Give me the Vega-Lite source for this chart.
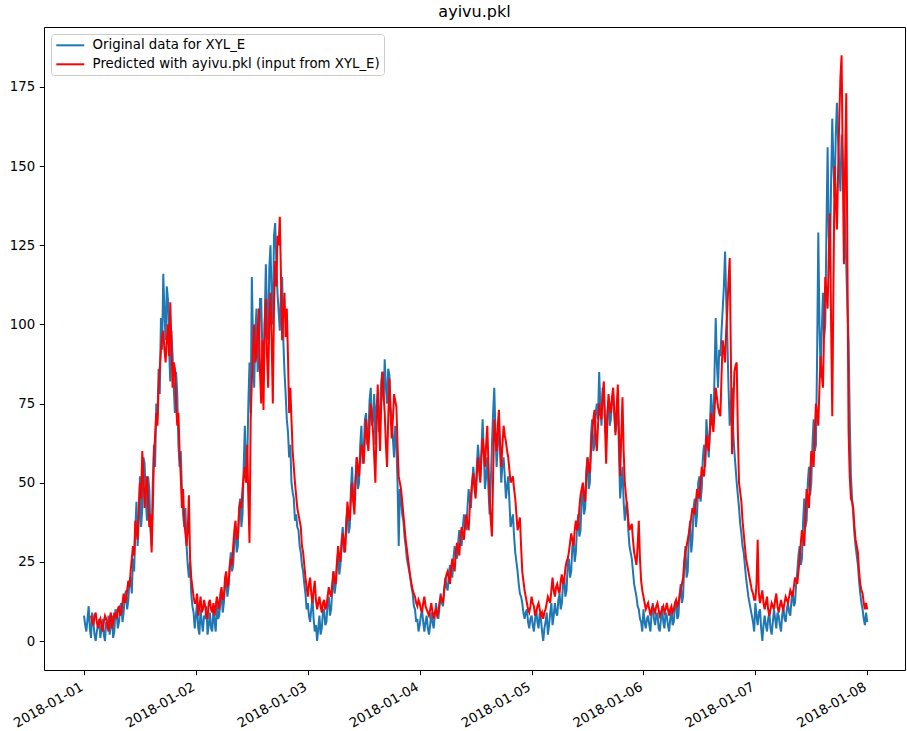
{
"$schema": "https://vega.github.io/schema/vega-lite/v6.json",
"width": 861, "height": 643,
"autosize": "none",
"padding": {"left": 44, "top": 27, "right": 2, "bottom": 61},
"background": "white",
"title": {"text": "ayivu.pkl", "fontSize": 16, "font": "DejaVu Sans", "fontWeight": "normal", "color": "black", "offset": 7, "anchor": "middle"},
"config": {"view": {"stroke": "black", "strokeWidth": 1}},
"data": {"values": [
{"t":"2018-01-01T00:00","o":8,"p":null},{"t":"2018-01-01T00:15","o":5,"p":null},{"t":"2018-01-01T00:30","o":3,"p":null},{"t":"2018-01-01T00:45","o":7,"p":null},
{"t":"2018-01-01T01:00","o":11,"p":null},{"t":"2018-01-01T01:15","o":4,"p":null},{"t":"2018-01-01T01:30","o":1,"p":8},{"t":"2018-01-01T01:45","o":9,"p":6},
{"t":"2018-01-01T02:00","o":6,"p":5},{"t":"2018-01-01T02:15","o":2,"p":8},{"t":"2018-01-01T02:30","o":0,"p":9},{"t":"2018-01-01T02:45","o":3,"p":6},
{"t":"2018-01-01T03:00","o":5,"p":4},{"t":"2018-01-01T03:15","o":7,"p":6},{"t":"2018-01-01T03:30","o":1,"p":7},{"t":"2018-01-01T03:45","o":4,"p":5},
{"t":"2018-01-01T04:00","o":7,"p":3},{"t":"2018-01-01T04:15","o":2,"p":6},{"t":"2018-01-01T04:30","o":0,"p":8},{"t":"2018-01-01T04:45","o":6,"p":7},
{"t":"2018-01-01T05:00","o":4,"p":5},{"t":"2018-01-01T05:15","o":8,"p":3},{"t":"2018-01-01T05:30","o":2,"p":7},{"t":"2018-01-01T05:45","o":5,"p":9},
{"t":"2018-01-01T06:00","o":8,"p":4},{"t":"2018-01-01T06:15","o":1,"p":6},{"t":"2018-01-01T06:30","o":3,"p":9},{"t":"2018-01-01T06:45","o":10,"p":8},
{"t":"2018-01-01T07:00","o":9,"p":7},{"t":"2018-01-01T07:15","o":4,"p":10},{"t":"2018-01-01T07:30","o":6,"p":11},{"t":"2018-01-01T07:45","o":11,"p":8},
{"t":"2018-01-01T08:00","o":12,"p":9},{"t":"2018-01-01T08:15","o":6,"p":12},{"t":"2018-01-01T08:30","o":9,"p":15},{"t":"2018-01-01T08:45","o":14,"p":12},
{"t":"2018-01-01T09:00","o":16,"p":13},{"t":"2018-01-01T09:15","o":10,"p":16},{"t":"2018-01-01T09:30","o":13,"p":19},{"t":"2018-01-01T09:45","o":19,"p":17},
{"t":"2018-01-01T10:00","o":20,"p":22},{"t":"2018-01-01T10:15","o":15,"p":26},{"t":"2018-01-01T10:30","o":26,"p":30},{"t":"2018-01-01T10:45","o":22,"p":27},
{"t":"2018-01-01T11:00","o":35,"p":38},{"t":"2018-01-01T11:15","o":44,"p":35},{"t":"2018-01-01T11:30","o":30,"p":32},{"t":"2018-01-01T11:45","o":38,"p":42},
{"t":"2018-01-01T12:00","o":52,"p":50},{"t":"2018-01-01T12:15","o":36,"p":45},{"t":"2018-01-01T12:30","o":42,"p":60},{"t":"2018-01-01T12:45","o":58,"p":52},
{"t":"2018-01-01T13:00","o":56,"p":42},{"t":"2018-01-01T13:15","o":45,"p":48},{"t":"2018-01-01T13:30","o":38,"p":52},{"t":"2018-01-01T13:45","o":52,"p":44},
{"t":"2018-01-01T14:00","o":48,"p":36},{"t":"2018-01-01T14:15","o":35,"p":40},{"t":"2018-01-01T14:30","o":30,"p":28},{"t":"2018-01-01T14:45","o":50,"p":42},
{"t":"2018-01-01T15:00","o":62,"p":58},{"t":"2018-01-01T15:15","o":55,"p":65},{"t":"2018-01-01T15:30","o":75,"p":72},{"t":"2018-01-01T15:45","o":70,"p":68},
{"t":"2018-01-01T16:00","o":86,"p":80},{"t":"2018-01-01T16:15","o":78,"p":86},{"t":"2018-01-01T16:30","o":102,"p":92},{"t":"2018-01-01T16:45","o":92,"p":96},
{"t":"2018-01-01T17:00","o":116,"p":98},{"t":"2018-01-01T17:15","o":104,"p":92},{"t":"2018-01-01T17:30","o":95,"p":88},{"t":"2018-01-01T17:45","o":112,"p":95},
{"t":"2018-01-01T18:00","o":108,"p":100},{"t":"2018-01-01T18:15","o":92,"p":90},{"t":"2018-01-01T18:30","o":82,"p":107},{"t":"2018-01-01T18:45","o":98,"p":94},
{"t":"2018-01-01T19:00","o":90,"p":80},{"t":"2018-01-01T19:15","o":80,"p":88},{"t":"2018-01-01T19:30","o":72,"p":86},{"t":"2018-01-01T19:45","o":85,"p":75},
{"t":"2018-01-01T20:00","o":78,"p":68},{"t":"2018-01-01T20:15","o":62,"p":72},{"t":"2018-01-01T20:30","o":55,"p":60},{"t":"2018-01-01T20:45","o":60,"p":52},
{"t":"2018-01-01T21:00","o":48,"p":42},{"t":"2018-01-01T21:15","o":40,"p":48},{"t":"2018-01-01T21:30","o":36,"p":38},{"t":"2018-01-01T21:45","o":42,"p":34},
{"t":"2018-01-01T22:00","o":30,"p":30},{"t":"2018-01-01T22:15","o":24,"p":35},{"t":"2018-01-01T22:30","o":20,"p":46},{"t":"2018-01-01T22:45","o":25,"p":26},
{"t":"2018-01-01T23:00","o":15,"p":20},{"t":"2018-01-01T23:15","o":11,"p":17},{"t":"2018-01-01T23:30","o":9,"p":14},{"t":"2018-01-01T23:45","o":4,"p":12},
{"t":"2018-01-02T00:00","o":8,"p":12},{"t":"2018-01-02T00:15","o":12,"p":15},{"t":"2018-01-02T00:30","o":4,"p":8},{"t":"2018-01-02T00:45","o":2,"p":11},
{"t":"2018-01-02T01:00","o":10,"p":14},{"t":"2018-01-02T01:15","o":6,"p":9},{"t":"2018-01-02T01:30","o":3,"p":10},{"t":"2018-01-02T01:45","o":8,"p":13},
{"t":"2018-01-02T02:00","o":7,"p":11},{"t":"2018-01-02T02:15","o":11,"p":8},{"t":"2018-01-02T02:30","o":2,"p":7},{"t":"2018-01-02T02:45","o":5,"p":12},
{"t":"2018-01-02T03:00","o":9,"p":13},{"t":"2018-01-02T03:15","o":4,"p":10},{"t":"2018-01-02T03:30","o":3,"p":9},{"t":"2018-01-02T03:45","o":10,"p":12},
{"t":"2018-01-02T04:00","o":6,"p":8},{"t":"2018-01-02T04:15","o":3,"p":11},{"t":"2018-01-02T04:30","o":12,"p":14},{"t":"2018-01-02T04:45","o":7,"p":12},
{"t":"2018-01-02T05:00","o":8,"p":10},{"t":"2018-01-02T05:15","o":13,"p":15},{"t":"2018-01-02T05:30","o":15,"p":17},{"t":"2018-01-02T05:45","o":9,"p":13},
{"t":"2018-01-02T06:00","o":12,"p":14},{"t":"2018-01-02T06:15","o":18,"p":20},{"t":"2018-01-02T06:30","o":20,"p":22},{"t":"2018-01-02T06:45","o":14,"p":17},
{"t":"2018-01-02T07:00","o":17,"p":18},{"t":"2018-01-02T07:15","o":24,"p":23},{"t":"2018-01-02T07:30","o":28,"p":26},{"t":"2018-01-02T07:45","o":22,"p":24},
{"t":"2018-01-02T08:00","o":24,"p":30},{"t":"2018-01-02T08:15","o":32,"p":35},{"t":"2018-01-02T08:30","o":36,"p":38},{"t":"2018-01-02T08:45","o":28,"p":32},
{"t":"2018-01-02T09:00","o":30,"p":33},{"t":"2018-01-02T09:15","o":42,"p":40},{"t":"2018-01-02T09:30","o":45,"p":44},{"t":"2018-01-02T09:45","o":36,"p":42},
{"t":"2018-01-02T10:00","o":40,"p":48},{"t":"2018-01-02T10:15","o":55,"p":52},{"t":"2018-01-02T10:30","o":68,"p":55},{"t":"2018-01-02T10:45","o":52,"p":50},
{"t":"2018-01-02T11:00","o":55,"p":62},{"t":"2018-01-02T11:15","o":75,"p":45},{"t":"2018-01-02T11:30","o":88,"p":31},{"t":"2018-01-02T11:45","o":72,"p":70},
{"t":"2018-01-02T12:00","o":115,"p":82},{"t":"2018-01-02T12:15","o":95,"p":92},{"t":"2018-01-02T12:30","o":80,"p":100},{"t":"2018-01-02T12:45","o":98,"p":88},
{"t":"2018-01-02T13:00","o":105,"p":90},{"t":"2018-01-02T13:15","o":85,"p":98},{"t":"2018-01-02T13:30","o":90,"p":105},{"t":"2018-01-02T13:45","o":108,"p":85},
{"t":"2018-01-02T14:00","o":108,"p":75},{"t":"2018-01-02T14:15","o":92,"p":95},{"t":"2018-01-02T14:30","o":82,"p":73},{"t":"2018-01-02T14:45","o":100,"p":100},
{"t":"2018-01-02T15:00","o":119,"p":108},{"t":"2018-01-02T15:15","o":104,"p":90},{"t":"2018-01-02T15:30","o":95,"p":80},{"t":"2018-01-02T15:45","o":118,"p":102},
{"t":"2018-01-02T16:00","o":125,"p":110},{"t":"2018-01-02T16:15","o":108,"p":95},{"t":"2018-01-02T16:30","o":100,"p":75},{"t":"2018-01-02T16:45","o":128,"p":105},
{"t":"2018-01-02T17:00","o":132,"p":120},{"t":"2018-01-02T17:15","o":120,"p":112},{"t":"2018-01-02T17:30","o":110,"p":128},{"t":"2018-01-02T17:45","o":104,"p":125},
{"t":"2018-01-02T18:00","o":98,"p":134},{"t":"2018-01-02T18:15","o":110,"p":115},{"t":"2018-01-02T18:30","o":115,"p":95},{"t":"2018-01-02T18:45","o":95,"p":104},
{"t":"2018-01-02T19:00","o":85,"p":110},{"t":"2018-01-02T19:15","o":78,"p":96},{"t":"2018-01-02T19:30","o":70,"p":105},{"t":"2018-01-02T19:45","o":66,"p":90},
{"t":"2018-01-02T20:00","o":58,"p":72},{"t":"2018-01-02T20:15","o":62,"p":80},{"t":"2018-01-02T20:30","o":50,"p":70},{"t":"2018-01-02T20:45","o":47,"p":60},
{"t":"2018-01-02T21:00","o":45,"p":55},{"t":"2018-01-02T21:15","o":38,"p":50},{"t":"2018-01-02T21:30","o":40,"p":46},{"t":"2018-01-02T21:45","o":36,"p":42},
{"t":"2018-01-02T22:00","o":35,"p":40},{"t":"2018-01-02T22:15","o":30,"p":38},{"t":"2018-01-02T22:30","o":28,"p":36},{"t":"2018-01-02T22:45","o":24,"p":30},
{"t":"2018-01-02T23:00","o":22,"p":28},{"t":"2018-01-02T23:15","o":18,"p":24},{"t":"2018-01-02T23:30","o":15,"p":20},{"t":"2018-01-02T23:45","o":10,"p":17},
{"t":"2018-01-03T00:00","o":12,"p":14},{"t":"2018-01-03T00:15","o":8,"p":18},{"t":"2018-01-03T00:30","o":6,"p":20},{"t":"2018-01-03T00:45","o":10,"p":15},
{"t":"2018-01-03T01:00","o":14,"p":12},{"t":"2018-01-03T01:15","o":7,"p":16},{"t":"2018-01-03T01:30","o":3,"p":19},{"t":"2018-01-03T01:45","o":5,"p":13},
{"t":"2018-01-03T02:00","o":0,"p":10},{"t":"2018-01-03T02:15","o":4,"p":12},{"t":"2018-01-03T02:30","o":8,"p":14},{"t":"2018-01-03T02:45","o":2,"p":11},
{"t":"2018-01-03T03:00","o":4,"p":9},{"t":"2018-01-03T03:15","o":9,"p":12},{"t":"2018-01-03T03:30","o":10,"p":13},{"t":"2018-01-03T03:45","o":5,"p":10},
{"t":"2018-01-03T04:00","o":6,"p":11},{"t":"2018-01-03T04:15","o":12,"p":14},{"t":"2018-01-03T04:30","o":14,"p":17},{"t":"2018-01-03T04:45","o":8,"p":15},
{"t":"2018-01-03T05:00","o":10,"p":14},{"t":"2018-01-03T05:15","o":16,"p":18},{"t":"2018-01-03T05:30","o":22,"p":22},{"t":"2018-01-03T05:45","o":15,"p":19},
{"t":"2018-01-03T06:00","o":18,"p":18},{"t":"2018-01-03T06:15","o":25,"p":24},{"t":"2018-01-03T06:30","o":28,"p":30},{"t":"2018-01-03T06:45","o":21,"p":27},
{"t":"2018-01-03T07:00","o":24,"p":25},{"t":"2018-01-03T07:15","o":32,"p":30},{"t":"2018-01-03T07:30","o":36,"p":34},{"t":"2018-01-03T07:45","o":28,"p":31},
{"t":"2018-01-03T08:00","o":30,"p":28},{"t":"2018-01-03T08:15","o":38,"p":36},{"t":"2018-01-03T08:30","o":42,"p":44},{"t":"2018-01-03T08:45","o":34,"p":40},
{"t":"2018-01-03T09:00","o":36,"p":38},{"t":"2018-01-03T09:15","o":48,"p":45},{"t":"2018-01-03T09:30","o":55,"p":50},{"t":"2018-01-03T09:45","o":44,"p":44},
{"t":"2018-01-03T10:00","o":45,"p":40},{"t":"2018-01-03T10:15","o":52,"p":50},{"t":"2018-01-03T10:30","o":58,"p":58},{"t":"2018-01-03T10:45","o":48,"p":55},
{"t":"2018-01-03T11:00","o":50,"p":52},{"t":"2018-01-03T11:15","o":62,"p":58},{"t":"2018-01-03T11:30","o":68,"p":62},{"t":"2018-01-03T11:45","o":56,"p":60},
{"t":"2018-01-03T12:00","o":60,"p":56},{"t":"2018-01-03T12:15","o":70,"p":64},{"t":"2018-01-03T12:30","o":72,"p":70},{"t":"2018-01-03T12:45","o":62,"p":64},
{"t":"2018-01-03T13:00","o":65,"p":60},{"t":"2018-01-03T13:15","o":76,"p":68},{"t":"2018-01-03T13:30","o":80,"p":75},{"t":"2018-01-03T13:45","o":68,"p":72},
{"t":"2018-01-03T14:00","o":70,"p":66},{"t":"2018-01-03T14:15","o":78,"p":58},{"t":"2018-01-03T14:30","o":62,"p":50},{"t":"2018-01-03T14:45","o":74,"p":68},
{"t":"2018-01-03T15:00","o":78,"p":81},{"t":"2018-01-03T15:15","o":66,"p":70},{"t":"2018-01-03T15:30","o":72,"p":60},{"t":"2018-01-03T15:45","o":82,"p":75},
{"t":"2018-01-03T16:00","o":85,"p":85},{"t":"2018-01-03T16:15","o":76,"p":78},{"t":"2018-01-03T16:30","o":89,"p":72},{"t":"2018-01-03T16:45","o":80,"p":62},
{"t":"2018-01-03T17:00","o":75,"p":55},{"t":"2018-01-03T17:15","o":86,"p":70},{"t":"2018-01-03T17:30","o":84,"p":83},{"t":"2018-01-03T17:45","o":74,"p":72},
{"t":"2018-01-03T18:00","o":70,"p":64},{"t":"2018-01-03T18:15","o":64,"p":70},{"t":"2018-01-03T18:30","o":58,"p":78},{"t":"2018-01-03T18:45","o":68,"p":76},
{"t":"2018-01-03T19:00","o":62,"p":74},{"t":"2018-01-03T19:15","o":50,"p":62},{"t":"2018-01-03T19:30","o":30,"p":52},{"t":"2018-01-03T19:45","o":48,"p":50},
{"t":"2018-01-03T20:00","o":45,"p":48},{"t":"2018-01-03T20:15","o":40,"p":44},{"t":"2018-01-03T20:30","o":38,"p":40},{"t":"2018-01-03T20:45","o":33,"p":36},
{"t":"2018-01-03T21:00","o":30,"p":32},{"t":"2018-01-03T21:15","o":26,"p":29},{"t":"2018-01-03T21:30","o":24,"p":26},{"t":"2018-01-03T21:45","o":22,"p":23},
{"t":"2018-01-03T22:00","o":20,"p":20},{"t":"2018-01-03T22:15","o":17,"p":18},{"t":"2018-01-03T22:30","o":15,"p":16},{"t":"2018-01-03T22:45","o":11,"p":15},
{"t":"2018-01-03T23:00","o":10,"p":14},{"t":"2018-01-03T23:15","o":6,"p":12},{"t":"2018-01-03T23:30","o":7,"p":11},{"t":"2018-01-03T23:45","o":3,"p":13},
{"t":"2018-01-04T00:00","o":5,"p":12},{"t":"2018-01-04T00:15","o":8,"p":10},{"t":"2018-01-04T00:30","o":10,"p":9},{"t":"2018-01-04T00:45","o":6,"p":12},
{"t":"2018-01-04T01:00","o":3,"p":14},{"t":"2018-01-04T01:15","o":6,"p":11},{"t":"2018-01-04T01:30","o":8,"p":10},{"t":"2018-01-04T01:45","o":4,"p":9},
{"t":"2018-01-04T02:00","o":2,"p":8},{"t":"2018-01-04T02:15","o":5,"p":10},{"t":"2018-01-04T02:30","o":9,"p":12},{"t":"2018-01-04T02:45","o":6,"p":9},
{"t":"2018-01-04T03:00","o":4,"p":7},{"t":"2018-01-04T03:15","o":8,"p":9},{"t":"2018-01-04T03:30","o":12,"p":10},{"t":"2018-01-04T03:45","o":9,"p":8},
{"t":"2018-01-04T04:00","o":7,"p":9},{"t":"2018-01-04T04:15","o":11,"p":12},{"t":"2018-01-04T04:30","o":15,"p":14},{"t":"2018-01-04T04:45","o":12,"p":13},
{"t":"2018-01-04T05:00","o":11,"p":12},{"t":"2018-01-04T05:15","o":16,"p":16},{"t":"2018-01-04T05:30","o":20,"p":19},{"t":"2018-01-04T05:45","o":17,"p":21},
{"t":"2018-01-04T06:00","o":16,"p":22},{"t":"2018-01-04T06:15","o":21,"p":20},{"t":"2018-01-04T06:30","o":24,"p":18},{"t":"2018-01-04T06:45","o":22,"p":23},
{"t":"2018-01-04T07:00","o":20,"p":26},{"t":"2018-01-04T07:15","o":26,"p":24},{"t":"2018-01-04T07:30","o":30,"p":22},{"t":"2018-01-04T07:45","o":27,"p":28},
{"t":"2018-01-04T08:00","o":26,"p":31},{"t":"2018-01-04T08:15","o":31,"p":29},{"t":"2018-01-04T08:30","o":35,"p":27},{"t":"2018-01-04T08:45","o":33,"p":33},
{"t":"2018-01-04T09:00","o":30,"p":36},{"t":"2018-01-04T09:15","o":36,"p":34},{"t":"2018-01-04T09:30","o":40,"p":32},{"t":"2018-01-04T09:45","o":38,"p":37},
{"t":"2018-01-04T10:00","o":35,"p":40},{"t":"2018-01-04T10:15","o":42,"p":37},{"t":"2018-01-04T10:30","o":48,"p":35},{"t":"2018-01-04T10:45","o":44,"p":42},
{"t":"2018-01-04T11:00","o":42,"p":46},{"t":"2018-01-04T11:15","o":50,"p":50},{"t":"2018-01-04T11:30","o":55,"p":53},{"t":"2018-01-04T11:45","o":50,"p":48},
{"t":"2018-01-04T12:00","o":47,"p":45},{"t":"2018-01-04T12:15","o":55,"p":52},{"t":"2018-01-04T12:30","o":62,"p":58},{"t":"2018-01-04T12:45","o":57,"p":54},
{"t":"2018-01-04T13:00","o":52,"p":50},{"t":"2018-01-04T13:15","o":60,"p":58},{"t":"2018-01-04T13:30","o":70,"p":64},{"t":"2018-01-04T13:45","o":60,"p":60},
{"t":"2018-01-04T14:00","o":48,"p":55},{"t":"2018-01-04T14:15","o":52,"p":62},{"t":"2018-01-04T14:30","o":58,"p":68},{"t":"2018-01-04T14:45","o":48,"p":56},
{"t":"2018-01-04T15:00","o":40,"p":45},{"t":"2018-01-04T15:15","o":50,"p":38},{"t":"2018-01-04T15:30","o":62,"p":33},{"t":"2018-01-04T15:45","o":72,"p":52},
{"t":"2018-01-04T16:00","o":80,"p":70},{"t":"2018-01-04T16:15","o":66,"p":65},{"t":"2018-01-04T16:30","o":55,"p":60},{"t":"2018-01-04T16:45","o":62,"p":68},
{"t":"2018-01-04T17:00","o":68,"p":73},{"t":"2018-01-04T17:15","o":60,"p":62},{"t":"2018-01-04T17:30","o":50,"p":55},{"t":"2018-01-04T17:45","o":56,"p":62},
{"t":"2018-01-04T18:00","o":58,"p":68},{"t":"2018-01-04T18:15","o":52,"p":65},{"t":"2018-01-04T18:30","o":45,"p":63},{"t":"2018-01-04T18:45","o":49,"p":60},
{"t":"2018-01-04T19:00","o":52,"p":58},{"t":"2018-01-04T19:15","o":44,"p":54},{"t":"2018-01-04T19:30","o":36,"p":50},{"t":"2018-01-04T19:45","o":38,"p":51},
{"t":"2018-01-04T20:00","o":40,"p":52},{"t":"2018-01-04T20:15","o":33,"p":48},{"t":"2018-01-04T20:30","o":28,"p":45},{"t":"2018-01-04T20:45","o":25,"p":40},
{"t":"2018-01-04T21:00","o":22,"p":35},{"t":"2018-01-04T21:15","o":18,"p":37},{"t":"2018-01-04T21:30","o":15,"p":39},{"t":"2018-01-04T21:45","o":14,"p":30},
{"t":"2018-01-04T22:00","o":12,"p":22},{"t":"2018-01-04T22:15","o":9,"p":19},{"t":"2018-01-04T22:30","o":7,"p":16},{"t":"2018-01-04T22:45","o":9,"p":14},
{"t":"2018-01-04T23:00","o":10,"p":12},{"t":"2018-01-04T23:15","o":6,"p":10},{"t":"2018-01-04T23:30","o":4,"p":9},{"t":"2018-01-04T23:45","o":7,"p":11},
{"t":"2018-01-05T00:00","o":8,"p":14},{"t":"2018-01-05T00:15","o":5,"p":12},{"t":"2018-01-05T00:30","o":3,"p":11},{"t":"2018-01-05T00:45","o":7,"p":8},
{"t":"2018-01-05T01:00","o":10,"p":9},{"t":"2018-01-05T01:15","o":6,"p":11},{"t":"2018-01-05T01:30","o":4,"p":12},{"t":"2018-01-05T01:45","o":9,"p":10},
{"t":"2018-01-05T02:00","o":7,"p":8},{"t":"2018-01-05T02:15","o":3,"p":9},{"t":"2018-01-05T02:30","o":0,"p":7},{"t":"2018-01-05T02:45","o":4,"p":9},
{"t":"2018-01-05T03:00","o":6,"p":10},{"t":"2018-01-05T03:15","o":9,"p":12},{"t":"2018-01-05T03:30","o":2,"p":14},{"t":"2018-01-05T03:45","o":5,"p":13},
{"t":"2018-01-05T04:00","o":9,"p":12},{"t":"2018-01-05T04:15","o":12,"p":16},{"t":"2018-01-05T04:30","o":5,"p":20},{"t":"2018-01-05T04:45","o":8,"p":16},
{"t":"2018-01-05T05:00","o":12,"p":14},{"t":"2018-01-05T05:15","o":9,"p":17},{"t":"2018-01-05T05:30","o":8,"p":18},{"t":"2018-01-05T05:45","o":13,"p":16},
{"t":"2018-01-05T06:00","o":15,"p":15},{"t":"2018-01-05T06:15","o":10,"p":19},{"t":"2018-01-05T06:30","o":12,"p":21},{"t":"2018-01-05T06:45","o":18,"p":18},
{"t":"2018-01-05T07:00","o":20,"p":19},{"t":"2018-01-05T07:15","o":14,"p":23},{"t":"2018-01-05T07:30","o":16,"p":25},{"t":"2018-01-05T07:45","o":24,"p":26},
{"t":"2018-01-05T08:00","o":26,"p":28},{"t":"2018-01-05T08:15","o":20,"p":31},{"t":"2018-01-05T08:30","o":22,"p":34},{"t":"2018-01-05T08:45","o":30,"p":32},
{"t":"2018-01-05T09:00","o":32,"p":30},{"t":"2018-01-05T09:15","o":25,"p":35},{"t":"2018-01-05T09:30","o":28,"p":38},{"t":"2018-01-05T09:45","o":36,"p":35},
{"t":"2018-01-05T10:00","o":40,"p":36},{"t":"2018-01-05T10:15","o":33,"p":42},{"t":"2018-01-05T10:30","o":35,"p":46},{"t":"2018-01-05T10:45","o":45,"p":48},
{"t":"2018-01-05T11:00","o":48,"p":50},{"t":"2018-01-05T11:15","o":40,"p":46},{"t":"2018-01-05T11:30","o":42,"p":44},{"t":"2018-01-05T11:45","o":54,"p":52},
{"t":"2018-01-05T12:00","o":58,"p":58},{"t":"2018-01-05T12:15","o":48,"p":55},{"t":"2018-01-05T12:30","o":50,"p":53},{"t":"2018-01-05T12:45","o":65,"p":60},
{"t":"2018-01-05T13:00","o":70,"p":66},{"t":"2018-01-05T13:15","o":60,"p":70},{"t":"2018-01-05T13:30","o":62,"p":73},{"t":"2018-01-05T13:45","o":72,"p":65},
{"t":"2018-01-05T14:00","o":75,"p":60},{"t":"2018-01-05T14:15","o":70,"p":68},{"t":"2018-01-05T14:30","o":85,"p":75},{"t":"2018-01-05T14:45","o":74,"p":72},
{"t":"2018-01-05T15:00","o":68,"p":70},{"t":"2018-01-05T15:15","o":80,"p":78},{"t":"2018-01-05T15:30","o":78,"p":82},{"t":"2018-01-05T15:45","o":70,"p":68},
{"t":"2018-01-05T16:00","o":64,"p":56},{"t":"2018-01-05T16:15","o":72,"p":70},{"t":"2018-01-05T16:30","o":76,"p":78},{"t":"2018-01-05T16:45","o":68,"p":74},
{"t":"2018-01-05T17:00","o":70,"p":72},{"t":"2018-01-05T17:15","o":76,"p":77},{"t":"2018-01-05T17:30","o":78,"p":80},{"t":"2018-01-05T17:45","o":72,"p":72},
{"t":"2018-01-05T18:00","o":66,"p":65},{"t":"2018-01-05T18:15","o":70,"p":74},{"t":"2018-01-05T18:30","o":74,"p":81},{"t":"2018-01-05T18:45","o":60,"p":66},
{"t":"2018-01-05T19:00","o":45,"p":52},{"t":"2018-01-05T19:15","o":50,"p":65},{"t":"2018-01-05T19:30","o":55,"p":77},{"t":"2018-01-05T19:45","o":44,"p":60},
{"t":"2018-01-05T20:00","o":38,"p":50},{"t":"2018-01-05T20:15","o":42,"p":46},{"t":"2018-01-05T20:30","o":44,"p":42},{"t":"2018-01-05T20:45","o":35,"p":38},
{"t":"2018-01-05T21:00","o":30,"p":35},{"t":"2018-01-05T21:15","o":28,"p":36},{"t":"2018-01-05T21:30","o":26,"p":37},{"t":"2018-01-05T21:45","o":22,"p":32},
{"t":"2018-01-05T22:00","o":18,"p":28},{"t":"2018-01-05T22:15","o":16,"p":26},{"t":"2018-01-05T22:30","o":14,"p":24},{"t":"2018-01-05T22:45","o":11,"p":30},
{"t":"2018-01-05T23:00","o":10,"p":38},{"t":"2018-01-05T23:15","o":7,"p":26},{"t":"2018-01-05T23:30","o":6,"p":19},{"t":"2018-01-05T23:45","o":3,"p":16},
{"t":"2018-01-06T00:00","o":10,"p":14},{"t":"2018-01-06T00:15","o":6,"p":12},{"t":"2018-01-06T00:30","o":4,"p":10},{"t":"2018-01-06T00:45","o":7,"p":11},
{"t":"2018-01-06T01:00","o":8,"p":12},{"t":"2018-01-06T01:15","o":5,"p":10},{"t":"2018-01-06T01:30","o":3,"p":8},{"t":"2018-01-06T01:45","o":9,"p":10},
{"t":"2018-01-06T02:00","o":12,"p":11},{"t":"2018-01-06T02:15","o":7,"p":10},{"t":"2018-01-06T02:30","o":5,"p":9},{"t":"2018-01-06T02:45","o":8,"p":11},
{"t":"2018-01-06T03:00","o":9,"p":12},{"t":"2018-01-06T03:15","o":4,"p":10},{"t":"2018-01-06T03:30","o":3,"p":8},{"t":"2018-01-06T03:45","o":7,"p":9},
{"t":"2018-01-06T04:00","o":11,"p":10},{"t":"2018-01-06T04:15","o":6,"p":11},{"t":"2018-01-06T04:30","o":4,"p":9},{"t":"2018-01-06T04:45","o":9,"p":10},
{"t":"2018-01-06T05:00","o":8,"p":12},{"t":"2018-01-06T05:15","o":5,"p":10},{"t":"2018-01-06T05:30","o":3,"p":8},{"t":"2018-01-06T05:45","o":7,"p":10},
{"t":"2018-01-06T06:00","o":10,"p":11},{"t":"2018-01-06T06:15","o":5,"p":9},{"t":"2018-01-06T06:30","o":6,"p":10},{"t":"2018-01-06T06:45","o":11,"p":12},
{"t":"2018-01-06T07:00","o":13,"p":13},{"t":"2018-01-06T07:15","o":7,"p":11},{"t":"2018-01-06T07:30","o":8,"p":12},{"t":"2018-01-06T07:45","o":15,"p":14},
{"t":"2018-01-06T08:00","o":18,"p":16},{"t":"2018-01-06T08:15","o":12,"p":18},{"t":"2018-01-06T08:30","o":14,"p":20},{"t":"2018-01-06T08:45","o":24,"p":25},
{"t":"2018-01-06T09:00","o":30,"p":28},{"t":"2018-01-06T09:15","o":20,"p":30},{"t":"2018-01-06T09:30","o":22,"p":32},{"t":"2018-01-06T09:45","o":34,"p":34},
{"t":"2018-01-06T10:00","o":38,"p":36},{"t":"2018-01-06T10:15","o":28,"p":39},{"t":"2018-01-06T10:30","o":32,"p":42},{"t":"2018-01-06T10:45","o":42,"p":41},
{"t":"2018-01-06T11:00","o":45,"p":40},{"t":"2018-01-06T11:15","o":36,"p":44},{"t":"2018-01-06T11:30","o":40,"p":48},{"t":"2018-01-06T11:45","o":50,"p":46},
{"t":"2018-01-06T12:00","o":52,"p":45},{"t":"2018-01-06T12:15","o":44,"p":50},{"t":"2018-01-06T12:30","o":48,"p":55},{"t":"2018-01-06T12:45","o":58,"p":53},
{"t":"2018-01-06T13:00","o":62,"p":52},{"t":"2018-01-06T13:15","o":55,"p":58},{"t":"2018-01-06T13:30","o":70,"p":65},{"t":"2018-01-06T13:45","o":64,"p":62},
{"t":"2018-01-06T14:00","o":58,"p":60},{"t":"2018-01-06T14:15","o":68,"p":66},{"t":"2018-01-06T14:30","o":78,"p":72},{"t":"2018-01-06T14:45","o":72,"p":69},
{"t":"2018-01-06T15:00","o":68,"p":66},{"t":"2018-01-06T15:15","o":85,"p":73},{"t":"2018-01-06T15:30","o":102,"p":80},{"t":"2018-01-06T15:45","o":88,"p":77},
{"t":"2018-01-06T16:00","o":80,"p":74},{"t":"2018-01-06T16:15","o":92,"p":72},{"t":"2018-01-06T16:30","o":90,"p":71},{"t":"2018-01-06T16:45","o":98,"p":84},
{"t":"2018-01-06T17:00","o":105,"p":95},{"t":"2018-01-06T17:15","o":112,"p":92},{"t":"2018-01-06T17:30","o":123,"p":88},{"t":"2018-01-06T17:45","o":108,"p":98},
{"t":"2018-01-06T18:00","o":95,"p":105},{"t":"2018-01-06T18:15","o":80,"p":114},{"t":"2018-01-06T18:30","o":68,"p":121},{"t":"2018-01-06T18:45","o":75,"p":90},
{"t":"2018-01-06T19:00","o":80,"p":59},{"t":"2018-01-06T19:15","o":66,"p":72},{"t":"2018-01-06T19:30","o":60,"p":85},{"t":"2018-01-06T19:45","o":55,"p":87},
{"t":"2018-01-06T20:00","o":50,"p":88},{"t":"2018-01-06T20:15","o":46,"p":66},{"t":"2018-01-06T20:30","o":42,"p":50},{"t":"2018-01-06T20:45","o":37,"p":47},
{"t":"2018-01-06T21:00","o":34,"p":44},{"t":"2018-01-06T21:15","o":30,"p":38},{"t":"2018-01-06T21:30","o":28,"p":34},{"t":"2018-01-06T21:45","o":24,"p":30},
{"t":"2018-01-06T22:00","o":20,"p":26},{"t":"2018-01-06T22:15","o":17,"p":24},{"t":"2018-01-06T22:30","o":14,"p":22},{"t":"2018-01-06T22:45","o":12,"p":20},
{"t":"2018-01-06T23:00","o":10,"p":18},{"t":"2018-01-06T23:15","o":8,"p":16},{"t":"2018-01-06T23:30","o":6,"p":15},{"t":"2018-01-06T23:45","o":3,"p":13},
{"t":"2018-01-07T00:00","o":12,"p":13},{"t":"2018-01-07T00:15","o":8,"p":18},{"t":"2018-01-07T00:30","o":5,"p":32},{"t":"2018-01-07T00:45","o":9,"p":15},
{"t":"2018-01-07T01:00","o":10,"p":12},{"t":"2018-01-07T01:15","o":4,"p":14},{"t":"2018-01-07T01:30","o":0,"p":16},{"t":"2018-01-07T01:45","o":5,"p":12},
{"t":"2018-01-07T02:00","o":8,"p":10},{"t":"2018-01-07T02:15","o":5,"p":12},{"t":"2018-01-07T02:30","o":3,"p":14},{"t":"2018-01-07T02:45","o":7,"p":10},
{"t":"2018-01-07T03:00","o":9,"p":8},{"t":"2018-01-07T03:15","o":4,"p":10},{"t":"2018-01-07T03:30","o":2,"p":12},{"t":"2018-01-07T03:45","o":6,"p":11},
{"t":"2018-01-07T04:00","o":10,"p":10},{"t":"2018-01-07T04:15","o":7,"p":13},{"t":"2018-01-07T04:30","o":4,"p":15},{"t":"2018-01-07T04:45","o":9,"p":11},
{"t":"2018-01-07T05:00","o":8,"p":9},{"t":"2018-01-07T05:15","o":5,"p":11},{"t":"2018-01-07T05:30","o":3,"p":13},{"t":"2018-01-07T05:45","o":8,"p":11},
{"t":"2018-01-07T06:00","o":11,"p":10},{"t":"2018-01-07T06:15","o":7,"p":12},{"t":"2018-01-07T06:30","o":6,"p":14},{"t":"2018-01-07T06:45","o":10,"p":13},
{"t":"2018-01-07T07:00","o":12,"p":12},{"t":"2018-01-07T07:15","o":9,"p":14},{"t":"2018-01-07T07:30","o":8,"p":16},{"t":"2018-01-07T07:45","o":13,"p":15},
{"t":"2018-01-07T08:00","o":16,"p":14},{"t":"2018-01-07T08:15","o":11,"p":17},{"t":"2018-01-07T08:30","o":12,"p":20},{"t":"2018-01-07T08:45","o":18,"p":19},
{"t":"2018-01-07T09:00","o":22,"p":18},{"t":"2018-01-07T09:15","o":27,"p":22},{"t":"2018-01-07T09:30","o":30,"p":26},{"t":"2018-01-07T09:45","o":24,"p":31},
{"t":"2018-01-07T10:00","o":26,"p":35},{"t":"2018-01-07T10:15","o":38,"p":33},{"t":"2018-01-07T10:30","o":45,"p":30},{"t":"2018-01-07T10:45","o":36,"p":40},
{"t":"2018-01-07T11:00","o":38,"p":48},{"t":"2018-01-07T11:15","o":50,"p":45},{"t":"2018-01-07T11:30","o":55,"p":42},{"t":"2018-01-07T11:45","o":46,"p":52},
{"t":"2018-01-07T12:00","o":50,"p":60},{"t":"2018-01-07T12:15","o":62,"p":58},{"t":"2018-01-07T12:30","o":70,"p":55},{"t":"2018-01-07T12:45","o":60,"p":66},
{"t":"2018-01-07T13:00","o":62,"p":75},{"t":"2018-01-07T13:15","o":90,"p":72},{"t":"2018-01-07T13:30","o":129,"p":68},{"t":"2018-01-07T13:45","o":100,"p":80},
{"t":"2018-01-07T14:00","o":85,"p":90},{"t":"2018-01-07T14:15","o":98,"p":84},{"t":"2018-01-07T14:30","o":110,"p":80},{"t":"2018-01-07T14:45","o":96,"p":98},
{"t":"2018-01-07T15:00","o":100,"p":115},{"t":"2018-01-07T15:15","o":130,"p":110},{"t":"2018-01-07T15:30","o":156,"p":105},{"t":"2018-01-07T15:45","o":128,"p":122},
{"t":"2018-01-07T16:00","o":120,"p":135},{"t":"2018-01-07T16:15","o":145,"p":100},{"t":"2018-01-07T16:30","o":165,"p":71},{"t":"2018-01-07T16:45","o":150,"p":112},
{"t":"2018-01-07T17:00","o":140,"p":150},{"t":"2018-01-07T17:15","o":160,"p":140},{"t":"2018-01-07T17:30","o":170,"p":130},{"t":"2018-01-07T17:45","o":158,"p":148},
{"t":"2018-01-07T18:00","o":150,"p":165},{"t":"2018-01-07T18:15","o":142,"p":178},{"t":"2018-01-07T18:30","o":160,"p":185},{"t":"2018-01-07T18:45","o":152,"p":150},
{"t":"2018-01-07T19:00","o":145,"p":119},{"t":"2018-01-07T19:15","o":130,"p":150},{"t":"2018-01-07T19:30","o":119,"p":173},{"t":"2018-01-07T19:45","o":105,"p":120},
{"t":"2018-01-07T20:00","o":95,"p":66},{"t":"2018-01-07T20:15","o":70,"p":52},{"t":"2018-01-07T20:30","o":52,"p":45},{"t":"2018-01-07T20:45","o":45,"p":44},
{"t":"2018-01-07T21:00","o":40,"p":42},{"t":"2018-01-07T21:15","o":34,"p":36},{"t":"2018-01-07T21:30","o":30,"p":32},{"t":"2018-01-07T21:45","o":27,"p":30},
{"t":"2018-01-07T22:00","o":24,"p":28},{"t":"2018-01-07T22:15","o":19,"p":22},{"t":"2018-01-07T22:30","o":15,"p":18},{"t":"2018-01-07T22:45","o":12,"p":16},
{"t":"2018-01-07T23:00","o":10,"p":15},{"t":"2018-01-07T23:15","o":7,"p":12},{"t":"2018-01-07T23:30","o":5,"p":10},{"t":"2018-01-07T23:45","o":9,"p":12},
{"t":"2018-01-08T00:00","o":6,"p":10}
]},
"encoding": {
  "x": {"field": "t", "type": "temporal",
    "scale": {"domain": [{"year": 2017, "month": 12, "date": 31, "hours": 15, "minutes": 25}, {"year": 2018, "month": 1, "date": 8, "hours": 8, "minutes": 6}]},
    "axis": {"title": null, "format": "%Y-%m-%d", "tickCount": {"interval": "day", "step": 1}, "labelAngle": -30, "labelAlign": "right", "labelBaseline": "top", "labelPadding": 4.7, "labelOffset": -6, "labelOverlap": false, "labelFlush": false, "domain": false, "grid": false, "tickColor": "black", "tickSize": 4.7, "tickWidth": 1, "labelFont": "DejaVu Sans", "labelFontSize": 13.3, "labelColor": "black"}}
},
"layer": [
  {"mark": {"type": "line", "strokeWidth": 2, "clip": true},
   "encoding": {
     "y": {"field": "o", "type": "quantitative", "scale": {"domain": [-9.16, 193.95], "nice": false, "zero": false},
       "axis": {"title": null, "values": [0, 25, 50, 75, 100, 125, 150, 175], "domain": false, "grid": false, "tickColor": "black", "tickSize": 4.7, "tickWidth": 1, "labelFont": "DejaVu Sans", "labelFontSize": 13.3, "labelColor": "black", "labelPadding": 4.7}},
     "color": {"datum": "Original data for XYL_E", "type": "nominal",
       "scale": {"domain": ["Original data for XYL_E", "Predicted with ayivu.pkl (input from XYL_E)"], "range": ["#1f77b4", "#ff0000"]},
       "legend": {"title": null, "orient": "top-left", "offset": 7, "padding": 4.3, "strokeColor": "#cccccc", "fillColor": "rgba(255,255,255,0.8)", "cornerRadius": 3, "symbolType": "M-1,0H3.67", "symbolSize": 144, "symbolStrokeWidth": 2, "labelFont": "DejaVu Sans", "labelFontSize": 13.3, "labelColor": "black", "labelOffset": 23.3, "labelLimit": 500, "rowPadding": 5}}
   }},
  {"mark": {"type": "line", "strokeWidth": 2, "clip": true},
   "encoding": {
     "y": {"field": "p", "type": "quantitative", "axis": {"title": null}},
     "color": {"datum": "Predicted with ayivu.pkl (input from XYL_E)", "type": "nominal"}
   }}
]
}
